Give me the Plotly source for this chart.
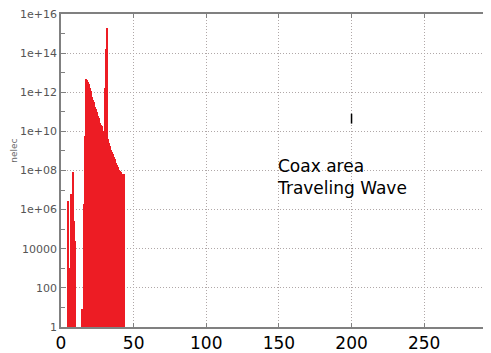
import plotly.graph_objects as go

# bin centres (position along the coax) and electron counts
x_pos = [5.0, 5.5, 6.0, 6.5, 7.0, 7.5, 8.0, 8.5, 9.0, 9.5,
         14.5, 15.0, 15.5, 16.0, 16.5, 17.0, 17.5, 18.0, 18.5, 19.0,
         19.5, 20.0, 20.5, 21.0, 21.5, 22.0, 22.5, 23.0, 23.5, 24.0,
         24.5, 25.0, 25.5, 26.0, 26.5, 27.0, 27.5, 28.0, 28.5, 29.0,
         29.5, 30.0, 30.5, 31.0, 31.5, 32.0, 32.5, 33.0, 33.5, 34.0,
         34.5, 35.0, 35.5, 36.0, 36.5, 37.0, 37.5, 38.0, 38.5, 39.0,
         39.5, 40.0, 40.5, 41.0, 41.5, 42.0, 42.5, 43.0, 43.5]
nelec = [2.9e6, 1.1e3, 1.1e3, 1.1e4, 6e6, 6e6, 8.5e7, 8.5e7, 2.5e5, 2.5e4,
         8, 8, 2e6, 2e6, 5.6e9, 5.6e9, 4.6e12, 4.2e12, 3.5e12, 2.8e12,
         2.0e12, 1.6e12, 1.1e12, 8e11, 5.6e11, 4e11, 3.2e11, 2.2e11, 1.8e11, 1.4e11,
         1e11, 8e10, 6.3e10, 5e10, 3.5e10, 2.8e10, 2.2e10, 1.8e10, 1.4e10, 1.1e10,
         1e10, 9e9, 1.6e12, 1.6e14, 2e15, 2e15, 4e9, 2.5e9, 1.8e9, 1.4e9,
         1.1e9, 9e8, 7e8, 6e8, 5e8, 4e8, 3.2e8, 2.5e8, 2e8, 1.6e8,
         1.3e8, 1.1e8, 1e8, 9e7, 8e7, 7e7, 6.6e7, 6.3e7, 6.3e7]

# stray mark at x = 200
mark_x = [200, 200]
mark_y = [2.5e10, 8e10]

y_tickvals = [1, 1e2, 1e4, 1e6, 1e8, 1e10, 1e12, 1e14, 1e16]
y_ticktext = ["1", "100", "10000", "1e+06", "1e+08", "1e+10", "1e+12", "1e+14", "1e+16"]
y_minor = [10, 1e3, 1e5, 1e7, 1e9, 1e11, 1e13, 1e15]
x_tickvals = [0, 50, 100, 150, 200, 250]

RED = "rgb(237,28,36)"
AX = "#808080"
GRID = "#b0a8a8"

# the page body has an 8px margin, so the figure is sized to fill the rest
W, H = 483, 345
ML, MR, MT, MB = 53, 0, 3, 26
plot_w = W - ML - MR
plot_h = H - MT - MB

fig = go.Figure()
fig.add_trace(go.Bar(x=x_pos, y=nelec, width=0.6, marker=dict(color=RED, line=dict(width=0)),
                     showlegend=False))
fig.add_trace(go.Scatter(x=mark_x, y=mark_y, mode="lines", line=dict(color="black", width=1.5),
                         showlegend=False))

fig.update_layout(
    width=W, height=H,
    margin=dict(l=ML, r=MR, t=MT, b=MB),
    paper_bgcolor="white", plot_bgcolor="white",
    bargap=0,
    font=dict(family="DejaVu Sans"),
    xaxis=dict(range=[0, 296], tickvals=x_tickvals, ticks="inside", ticklen=4, tickcolor=AX,
               showline=True, linecolor=AX, linewidth=1.5, mirror="ticks",
               showgrid=True, gridcolor=GRID, griddash="1px,2px", gridwidth=1,
               zeroline=False, ticklabeloverflow="allow",
               tickfont=dict(size=17, color="black", family="DejaVu Sans")),
    yaxis=dict(type="log", range=[0, 16], tickvals=y_tickvals, ticktext=y_ticktext,
               ticks="inside", ticklen=5, tickcolor=AX,
               showline=True, linecolor=AX, linewidth=1.5,
               showgrid=True, gridcolor=GRID, griddash="1px,2px", gridwidth=1,
               zeroline=False, ticklabeloverflow="allow",
               minor=dict(tickvals=y_minor, ticks="inside", ticklen=4, tickcolor=AX, showgrid=False),
               tickfont=dict(size=11, color="#555555", family="DejaVu Sans")),
    annotations=[
        dict(text="nelec", x=(6 - ML) / plot_w, y=(H - MB - 141) / plot_h,
             xref="paper", yref="paper", showarrow=False,
             textangle=-90, font=dict(size=9, color="#666666", family="DejaVu Sans"),
             xanchor="center", yanchor="middle"),
        dict(text="Coax area<br>Traveling Wave", x=147, y=7.65, xref="x", yref="y",
             showarrow=False, align="left", xanchor="left", yanchor="middle",
             font=dict(size=17, color="black", family="DejaVu Sans")),
    ],
)

fig.write_html("out.html")
